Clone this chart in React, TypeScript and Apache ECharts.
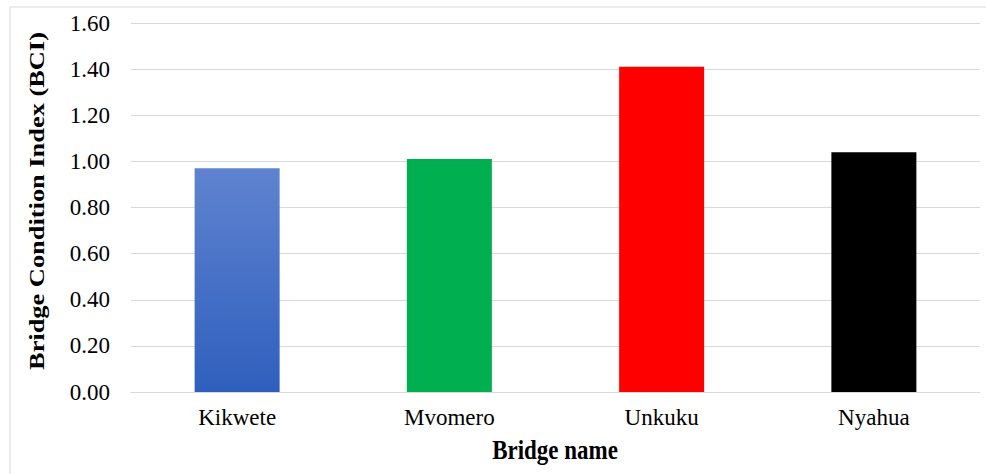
import React, { useEffect, useRef } from "react";
import * as echarts from "echarts";

const bridges = ["Kikwete", "Mvomero", "Unkuku", "Nyahua"];
const bciValues = [0.97, 1.01, 1.41, 1.04];
const yTicks = [0, 0.2, 0.4, 0.6, 0.8, 1.0, 1.2, 1.4, 1.6];
const xTitle = "Bridge name";
const yTitle = "Bridge Condition Index (BCI)";

const FONT = "Liberation Serif";

export default function App() {
  const ref = useRef<HTMLDivElement>(null);

  useEffect(() => {
    if (!ref.current) return;
    const chart = echarts.init(ref.current, undefined, { renderer: "svg" });

    const barColors = [
      new echarts.graphic.LinearGradient(0, 0, 0, 1, [
        { offset: 0, color: "#5f83d0" },
        { offset: 1, color: "#2f5fbd" },
      ]),
      "#00b050",
      "#ff0000",
      "#000000",
    ];

    chart.setOption({
      animation: false,
      backgroundColor: "#ffffff",
      textStyle: { fontFamily: FONT },
      graphic: [
        {
          type: "rect",
          shape: { x: 10, y: 7, width: 1000, height: 500 },
          style: { fill: "none", stroke: "#d9d9d9", lineWidth: 1 },
          silent: true,
        },
        // axis titles, drawn slightly taller than wide like the rest of the type
        {
          type: "text",
          x: 36,
          y: 201,
          rotation: Math.PI / 2,
          scaleX: 1.2,
          style: {
            text: yTitle,
            font: `bold 22px ${FONT}`,
            fill: "#000000",
            textAlign: "center",
            textVerticalAlign: "middle",
          },
          silent: true,
        },
        {
          type: "text",
          x: 555,
          y: 450,
          scaleY: 1.15,
          style: {
            text: xTitle,
            font: `bold 23px ${FONT}`,
            fill: "#000000",
            textAlign: "center",
            textVerticalAlign: "middle",
          },
          silent: true,
        },
      ],
      grid: { left: 131, right: 6, top: 23, bottom: 82, containLabel: false },
      xAxis: {
        type: "category",
        data: bridges,
        axisLine: { show: true, lineStyle: { color: "#d9d9d9", width: 1 } },
        axisTick: { show: false },
        axisLabel: {
          fontFamily: FONT,
          fontSize: 23,
          color: "#000000",
          margin: 14,
        },
      },
      yAxis: {
        type: "value",
        min: yTicks[0],
        max: yTicks[yTicks.length - 1],
        interval: 0.2,
        axisLine: { show: false },
        axisTick: { show: false },
        splitLine: { lineStyle: { color: "#d9d9d9", width: 1 } },
        axisLabel: {
          fontFamily: FONT,
          fontSize: 23,
          color: "#000000",
          margin: 21,
          formatter: (v: number) => v.toFixed(2),
        },
      },
      series: [
        {
          type: "bar",
          data: bciValues.map((v, i) => ({
            value: v,
            itemStyle: { color: barColors[i] },
          })),
          barWidth: 85,
        },
      ],
    });

    return () => chart.dispose();
  }, []);

  return (
    <div
      ref={ref}
      style={{ position: "fixed", left: 0, top: 0, width: 986, height: 474 }}
    />
  );
}
